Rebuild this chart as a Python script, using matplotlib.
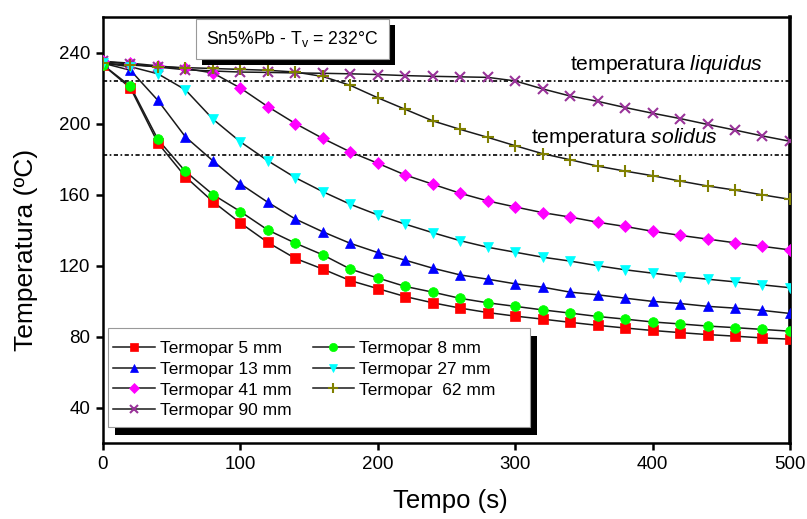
import matplotlib
matplotlib.use("Agg")
import matplotlib.pyplot as plt
from matplotlib.patches import Rectangle

plt.rcParams["font.family"] = ["Liberation Sans", "DejaVu Sans"]
plt.rcParams["mathtext.fontset"] = "custom"
plt.rcParams["mathtext.rm"] = "Liberation Sans"
plt.rcParams["mathtext.it"] = "Liberation Sans:italic"

# tempo (s): leituras a cada 20 s
tempo = [0, 20, 40, 60, 80, 100, 120, 140, 160, 180, 200, 220, 240,
         260, 280, 300, 320, 340, 360, 380, 400, 420, 440, 460, 480, 500]

t_5mm = [233, 220, 189, 170, 156, 144, 133, 124, 118, 111.5, 107, 102.5, 99,
         96, 93.5, 91.5, 89.8, 88, 86.3, 84.8, 83.4, 82.2, 81.1, 80.2, 79.2, 78.5]
t_8mm = [233, 221, 191, 173, 160, 150.4, 140, 132.6, 126, 118, 113, 108.2, 105,
         101.5, 99, 97, 95, 93.2, 91.3, 89.8, 88.2, 87.1, 85.9, 85, 84, 83]
t_13mm = [234, 230, 213, 192.5, 179, 166, 155.6, 146.2, 139, 132.5, 127.3, 123, 118.5,
          114.7, 112.3, 109.7, 107.8, 105, 103.5, 101.6, 99.8, 98.6, 97, 96, 94.7, 93]
t_27mm = [234, 232, 228, 219, 202.5, 189.7, 179, 169.5, 161.6, 154.5, 148.5, 143.3, 138.5,
          134, 130.3, 127.5, 124.7, 122.5, 119.9, 117.6, 115.7, 113.8, 112.3, 110.8, 109.1, 107.5]
t_41mm = [235, 234, 232.5, 231, 228.5, 220, 209.5, 200, 191.6, 184, 177.6, 171, 165.8,
          160.7, 156.4, 153, 149.8, 147.3, 144.4, 142, 139.3, 137, 134.9, 132.8, 130.8, 128.8]
t_62mm = [234, 233, 232, 231.5, 231, 230.5, 230, 229, 226.5, 221.5, 214.5, 208, 201.5,
          196.7, 192.2, 187.5, 183, 179.6, 176, 173.2, 170.6, 167.6, 164.8, 162.5, 159.8, 157.3]
t_90mm = [235, 233.5, 231.8, 230.3, 229.6, 229, 228.8, 228.5, 228.3, 228, 227.6, 227, 226.6,
          226.3, 226, 224, 219.5, 215.5, 212.5, 209, 205.8, 202.8, 199.5, 196.3, 193, 190]

t_liquidus = 224
t_solidus = 182

# ordem da legenda: preenchida por colunas
series = [
    ("Termopar 5 mm", t_5mm, "s", "#ff0000"),
    ("Termopar 13 mm", t_13mm, "^", "#0000ff"),
    ("Termopar 41 mm", t_41mm, "D", "#ff00ff"),
    ("Termopar 90 mm", t_90mm, "x", "#993399"),
    ("Termopar 8 mm", t_8mm, "o", "#00ff00"),
    ("Termopar 27 mm", t_27mm, "v", "#00ffff"),
    ("Termopar  62 mm", t_62mm, "+", "#808000"),
]
msize = {"s": 6.5, "^": 7, "D": 6, "x": 7, "o": 7, "v": 7, "+": 8}

fig = plt.figure(figsize=(8.07, 5.19), dpi=100)
ax = fig.add_axes([0.1276, 0.1464, 0.8513, 0.8208])

dotted = (0, (2.5, 1.5, 1, 1.5))
ax.axhline(t_liquidus, color="k", lw=1.2, ls=dotted, zorder=1)
ax.axhline(t_solidus, color="k", lw=1.2, ls=dotted, zorder=1)

handles = []
for label, vals, mk, col in series:
    mew = 1.5 if mk in "x+" else 0.5
    ax.plot(tempo, vals, color="#1a1a1a", lw=1.1, zorder=2)
    ax.plot(tempo, vals, ls="none", marker=mk, ms=msize[mk], mfc=col, mec=col,
            mew=mew, zorder=3)
    h, = ax.plot([], [], color="#1a1a1a", lw=1.1, marker=mk, ms=msize[mk] * 0.85,
                 mfc=col, mec=col, mew=mew, label=label)
    handles.append(h)

ax.set_xlim(0, 500)
ax.set_ylim(20, 260)
ax.set_xticks([0, 100, 200, 300, 400, 500])
ax.set_yticks([40, 80, 120, 160, 200, 240])
ax.tick_params(direction="out", length=5, width=1.8, labelsize=13.5, pad=4)
for side in ["left", "bottom", "top"]:
    ax.spines[side].set_linewidth(1.8)
ax.spines["right"].set_linewidth(2.6)

ax.set_xlabel("Tempo (s)", fontsize=18.5)
ax.xaxis.set_label_coords(0.505, -0.108)
ax.set_ylabel("Temperatura (ºC)", fontsize=19)
ax.yaxis.set_label_coords(-0.095, 0.453)

ax.text(480, 230, r"temperatura $\mathit{liquidus}$", fontsize=15.2, ha="right", va="baseline")
ax.text(448, 188.8, r"temperatura $\mathit{solidus}$", fontsize=15.2, ha="right", va="baseline")

# caixa do título com sombra
dx, dy = 0.0087, 0.0141
ax.add_patch(Rectangle((0.1354 + dx, 0.901 - dy), 0.2809, 0.094, transform=ax.transAxes,
                       facecolor="k", edgecolor="none", zorder=5))
ax.add_patch(Rectangle((0.1354, 0.901), 0.2809, 0.094, transform=ax.transAxes,
                       facecolor="white", edgecolor="#999999", lw=0.8, zorder=6))
ax.text(0.1354 + 0.2809 / 2, 0.901 + 0.047, r"Sn5%Pb - T$_\mathrm{v}$ = 232°C",
        transform=ax.transAxes, fontsize=12.7, ha="center", va="center", zorder=7)

# caixa da legenda com sombra
lx0, ly0, lw_, lh = 0.0073, 0.0376, 0.6142, 0.2324
ax.add_patch(Rectangle((lx0 + 0.0102, ly0 - 0.0188), lw_, lh, transform=ax.transAxes,
                       facecolor="k", edgecolor="none", zorder=5))
ax.add_patch(Rectangle((lx0, ly0), lw_, lh, transform=ax.transAxes,
                       facecolor="white", edgecolor="#999999", lw=0.8, zorder=6))
leg = ax.legend(handles=handles, ncol=2, frameon=False, fontsize=12.5,
                loc="upper left", bbox_to_anchor=(lx0, 0.251),
                handlelength=2.4, handletextpad=0.3, columnspacing=1.2,
                labelspacing=0.31, borderaxespad=0, borderpad=0.3)
leg.set_zorder(7)

fig.savefig("out.png", dpi=100)
